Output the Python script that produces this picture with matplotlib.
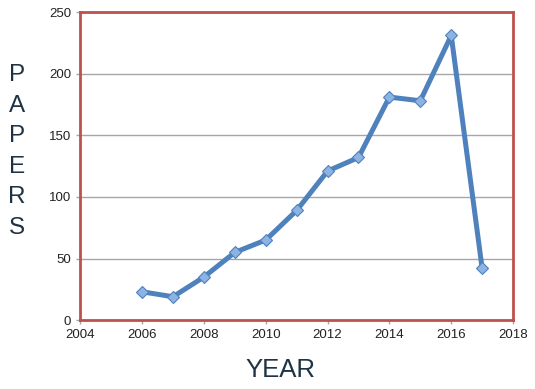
import matplotlib
matplotlib.use("Agg")
import matplotlib.pyplot as plt

# data
years = [2006, 2007, 2008, 2009, 2010, 2011, 2012, 2013, 2014, 2015, 2016, 2017]
papers = [23, 19, 35, 55, 65, 89, 121, 132, 181, 178, 231, 42]
x_ticks = [2004, 2006, 2008, 2010, 2012, 2014, 2016, 2018]
y_ticks = [0, 50, 100, 150, 200, 250]

plt.rcParams['font.family'] = ['Liberation Sans', 'DejaVu Sans']

fig = plt.figure(figsize=(5.35, 3.89), dpi=100)
ax = fig.add_axes([0.150, 0.177, 0.809, 0.792])

ax.plot(years, papers, color='#4f81bd', linewidth=3.6, marker='D', markersize=6.5,
        markerfacecolor='#8db3e2', markeredgecolor='#4f81bd', markeredgewidth=0.8,
        solid_joinstyle='round', zorder=3)

ax.set_xlim(2004, 2018)
ax.set_ylim(0, 250)
ax.set_xticks(x_ticks)
ax.set_yticks(y_ticks)
ax.yaxis.grid(True, color='#a6a6a6', linewidth=1)
ax.set_axisbelow(True)

for s in ax.spines.values():
    s.set_color('#c0504d')
    s.set_linewidth(2)

ax.tick_params(axis='both', colors='#a6a6a6', labelcolor='#222222', labelsize=9.5,
               length=3, width=1, direction='out')

# stacked y label
for i, ch in enumerate("PAPERS"):
    fig.text(0.032, 1 - (75 + i * 30.6) / 389, ch, fontsize=17.5, color='#1f3344',
             ha='center', va='center')

fig.text(0.525, 1 - 370 / 389, "YEAR", fontsize=18.5, color='#1f3344',
         ha='center', va='center')

fig.savefig("out.png", dpi=100)
